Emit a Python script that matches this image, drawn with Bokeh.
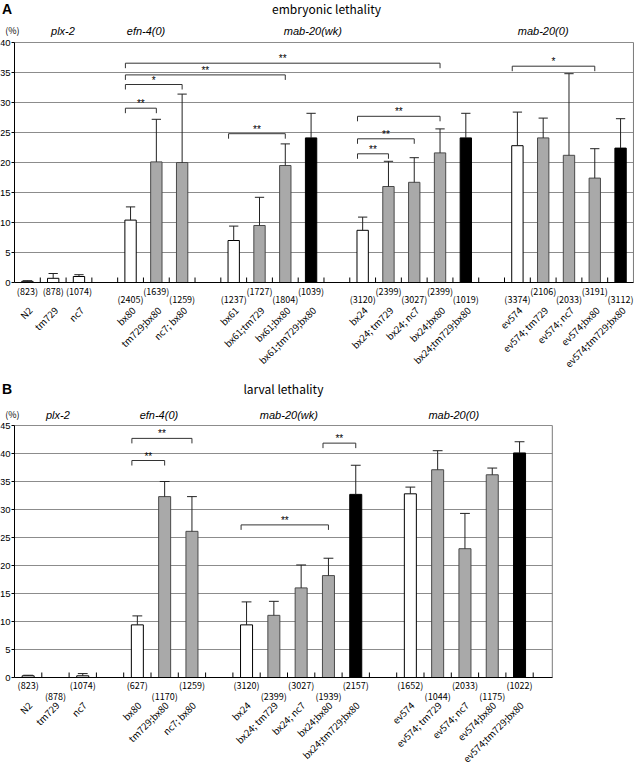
import math
from bokeh.plotting import figure
from bokeh.models import (Range1d, FixedTicker, ColumnDataSource, LabelSet,
                          Label, LinearAxis)
from bokeh.layouts import column
from bokeh.core.properties import value
from bokeh.embed import file_html
from bokeh.resources import INLINE

# ---------------- Panel A: embryonic lethality ----------------
groups_A = [
    ["N2", "tm729", "nc7"],
    ["bx80", "tm729;bx80", "nc7; bx80"],
    ["bx61", "bx61;tm729", "bx61;bx80", "bx61;tm729;bx80"],
    ["bx24", "bx24; tm729", "bx24; nc7", "bx24;bx80", "bx24;tm729;bx80"],
    ["ev574", "ev574; tm729", "ev574; nc7", "ev574;bx80", "ev574;tm729;bx80"],
]
values_A = [0.2, 0.7, 1.0, 10.4, 20.1, 20.0, 7.0, 9.5, 19.5, 24.1,
            8.7, 16.0, 16.7, 21.6, 24.1, 22.8, 24.1, 21.2, 17.4, 22.4]
errors_A = [0.1, 0.8, 0.3, 2.2, 7.1, 11.4, 2.4, 4.7, 3.6, 4.1,
            2.2, 4.2, 4.1, 4.0, 4.1, 5.6, 3.3, 13.6, 4.9, 4.9]
counts_A = [823, 878, 1074, 2405, 1639, 1259, 1237, 1727, 1804, 1039,
            3120, 2399, 3027, 2399, 1019, 3374, 2106, 2033, 3191, 3112]
kinds_A = ["w", "w", "w", "w", "g", "g", "w", "g", "g", "k",
           "w", "g", "g", "g", "k", "w", "g", "g", "g", "k"]
# significance brackets: (from bar, to bar, height %, label)
brackets_A = [(3, 13, 36.55, "**"), (3, 8, 34.6, "**"), (3, 5, 33.0, "*"),
              (3, 4, 29.05, "**"), (6, 8, 24.8, "**"), (10, 13, 27.7, "**"),
              (10, 12, 23.95, "**"), (10, 11, 21.45, "**"), (15, 18, 36.05, "*")]
gene_labels_A = ["plx-2", "efn-4(0)", "mab-20(wk)", "mab-20(0)"]

# ---------------- Panel B: larval lethality ----------------
groups_B = [
    ["N2", "tm729", "nc7"],
    ["bx80", "tm729;bx80", "nc7; bx80"],
    ["bx24", "bx24; tm729", "bx24; nc7", "bx24;bx80", "bx24;tm729;bx80"],
    ["ev574", "ev574; tm729", "ev574; nc7", "ev574;bx80", "ev574;tm729;bx80"],
]
values_B = [0.3, 0.0, 0.3, 9.4, 32.3, 26.1, 9.4, 11.1, 16.0, 18.2,
            32.7, 32.8, 37.1, 23.0, 36.2, 40.1]
errors_B = [0.1, 0.0, 0.4, 1.6, 2.7, 6.2, 4.1, 2.5, 4.1, 3.1,
            5.2, 1.2, 3.4, 6.3, 1.2, 2.0]
counts_B = [823, 878, 1074, 627, 1170, 1259, 3120, 2399, 3027, 1939,
            2157, 1652, 1044, 2033, 1175, 1022]
kinds_B = ["w", "w", "w", "w", "g", "g", "w", "g", "g", "g",
           "k", "w", "g", "g", "g", "k"]
brackets_B = [(3, 5, 42.7, "**"), (3, 4, 38.75, "**"),
              (6, 9, 27.25, "**"), (9, 10, 41.85, "**")]
gene_labels_B = ["plx-2", "efn-4(0)", "mab-20(wk)", "mab-20(0)"]

# ---------------- layout / style (not data) ----------------
count_row_A = [0, 0, 0, 1, 0, 1, 1, 0, 1, 0, 1, 0, 1, 0, 1, 1, 0, 1, 0, 1]
count_row_B = [0, 1, 0, 0, 1, 0, 0, 1, 0, 1, 0, 0, 1, 0, 1, 0]
gene_x_A = [1.88, 5.1, 11.57, 20.5]
gene_x_B = [1.59, 5.29, 10.05, 16.09]

FILL = {"w": "white", "g": "#a9a9a9", "k": "black"}
LINE = {"w": "black", "g": "#4a4a4a", "k": "black"}
SANS = "Liberation Sans"
JP = "Noto Sans CJK JP"


def slot_positions(groups):
    pos, k = [], 0
    for g in groups:
        for _ in g:
            pos.append(k + 0.5)
            k += 1
        k += 1
    return pos


def panel(letter, title, title_x, groups, values, errors, counts, kinds,
          rows, row_px, brackets, gene_labels, gene_x, ymax, xmax, nticks,
          px_x, px_y, width, height, top_px, name_off, letter_up, title_up,
          gene_up):
    names = [n for g in groups for n in g]
    pos = slot_positions(groups)
    left_px = 14
    x_lo = -left_px / px_x
    x_hi = x_lo + width / px_x
    y_hi = ymax + top_px / px_y
    y_lo = y_hi - height / px_y
    p = figure(width=width, height=height, output_backend="svg",
               toolbar_location=None, x_range=Range1d(x_lo, x_hi),
               y_range=Range1d(y_lo, y_hi), x_axis_location=None,
               y_axis_location=None, min_border=0)
    p.background_fill_color = "white"
    p.border_fill_color = "white"
    p.outline_line_color = None
    p.xgrid.visible = False
    p.ygrid.visible = False

    # horizontal grid lines (top one closes the frame) and right frame edge
    gy = list(range(5, ymax + 1, 5))
    p.segment(x0=[0] * len(gy), y0=gy, x1=[xmax] * len(gy), y1=gy,
              line_color="#8c8c8c", line_width=1)
    p.segment(x0=[xmax], y0=[0], x1=[xmax], y1=[ymax], line_color="#7a7a7a",
              line_width=1)
    # inward tick marks at category boundaries
    bt = list(range(1, nticks + 1))
    p.segment(x0=bt, y0=[0] * len(bt), x1=bt, y1=[5 / px_y] * len(bt),
              line_color="black", line_width=1)

    yax = LinearAxis(fixed_location=0, bounds=(0, ymax),
                     ticker=FixedTicker(ticks=list(range(0, ymax + 1, 5))))
    yax.major_tick_out = 3
    yax.major_tick_in = 0
    yax.minor_tick_line_color = None
    yax.axis_line_color = "black"
    yax.major_label_text_font = SANS
    yax.major_label_text_font_size = "9.5px"
    yax.major_label_text_color = "black"
    yax.major_label_standoff = 1
    p.add_layout(yax, "left")
    xax = LinearAxis(fixed_location=0, bounds=(0, xmax),
                     ticker=FixedTicker(ticks=[]))
    xax.axis_line_color = "black"
    xax.major_tick_line_color = None
    xax.minor_tick_line_color = None
    p.add_layout(xax, "below")

    src = ColumnDataSource(dict(x=pos, top=values,
                                fill=[FILL[k] for k in kinds],
                                line=[LINE[k] for k in kinds]))
    p.vbar(x="x", top="top", bottom=0, width=0.44, fill_color="fill",
           line_color="line", line_width=1, source=src)

    ex = [x for x, e in zip(pos, errors) if e > 0]
    elo = [v for v, e in zip(values, errors) if e > 0]
    ehi = [v + e for v, e in zip(values, errors) if e > 0]
    p.segment(x0=ex, y0=elo, x1=ex, y1=ehi, line_color="#222222", line_width=1)
    p.segment(x0=[x - 0.18 for x in ex], y0=ehi, x1=[x + 0.18 for x in ex],
              y1=ehi, line_color="#222222", line_width=1)

    drop = 5 / px_y
    bxs, bys, sx, sy, st = [], [], [], [], []
    for i, j, h, lab in brackets:
        xl, xr = pos[i] - 0.2, pos[j]
        bxs.append([xl, xl, xr, xr])
        bys.append([h - drop, h, h, h - drop])
        sx.append((xl + xr) / 2)
        sy.append(h)
        st.append(lab)
    p.multi_line(xs=bxs, ys=bys, line_color="#333333", line_width=1)
    p.add_layout(LabelSet(source=ColumnDataSource(dict(x=sx, y=sy, t=st)),
                          x="x", y="y", text="t", text_align="center",
                          text_baseline="alphabetic", y_offset=1,
                          text_font=value(SANS), text_font_size=value("10px"),
                          text_color="#000000"))

    # sample sizes (two staggered rows) and strain names under the axis
    csrc = ColumnDataSource(dict(x=pos, y=[0] * len(pos),
                                 t=["(%d)" % c for c in counts],
                                 yo=[-row_px[r] for r in rows]))
    p.add_layout(LabelSet(source=csrc, x="x", y="y", text="t", y_offset="yo",
                          text_align="center", text_baseline="middle",
                          text_font=value(JP), text_font_size=value("9px"),
                          text_color="black"))
    nsrc = ColumnDataSource(dict(x=pos, y=[0] * len(pos), t=names))
    p.add_layout(LabelSet(source=nsrc, x="x", y="y", text="t",
                          x_offset=name_off[0], y_offset=name_off[1],
                          angle=math.pi / 4, text_align="right",
                          text_baseline="middle", text_font=value(JP),
                          text_font_size=value("9.5px"), text_color="black"))

    # header texts
    gsrc = ColumnDataSource(dict(x=gene_x, y=[ymax] * len(gene_x),
                                 t=gene_labels))
    p.add_layout(LabelSet(source=gsrc, x="x", y="y", text="t",
                          y_offset=gene_up, text_align="center",
                          text_baseline="middle", text_font=value(SANS),
                          text_font_style=value("italic"),
                          text_font_size=value("11px"), text_color="black"))
    p.add_layout(Label(x=0, y=ymax, x_offset=5, y_offset=gene_up, text="(%)",
                       text_align="right", text_baseline="middle",
                       text_font=JP, text_font_size="9px", text_color="black"))
    p.add_layout(Label(x=0, y=ymax, x_offset=-7.5, y_offset=letter_up,
                       text=letter, text_align="center",
                       text_baseline="middle", text_font=SANS,
                       text_font_style="bold", text_font_size="14px",
                       text_color="black"))
    p.add_layout(Label(x=title_x, y=ymax, y_offset=title_up, text=title,
                       text_align="center", text_baseline="middle",
                       text_font=JP, text_font_size="12px",
                       text_color="black"))
    return p


pA = panel("A", "embryonic lethality", 12.1, groups_A, values_A, errors_A,
           counts_A, kinds_A, count_row_A, [9, 17], brackets_A, gene_labels_A,
           gene_x_A, 40, 24, 23, 25.79, 6.0, 636, 376, 42, (3, -26),
           33.5, 34, 12)
pB = panel("B", "larval lethality", 9.85, groups_B, values_B, errors_B,
           counts_B, kinds_B, count_row_B, [8, 19], brackets_B, gene_labels_B,
           gene_x_B, 45, 19.7, 19, 27.3, 5.6, 636, 388, 49, (2, -26),
           37, 37, 11)

layout = column(pA, pB)
open("out.html", "w").write(file_html(layout, INLINE))
